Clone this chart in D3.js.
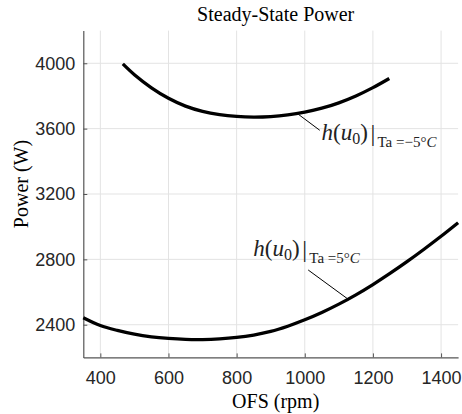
<!DOCTYPE html>
<html><head><meta charset="utf-8">
<script src="https://cdn.jsdelivr.net/npm/d3@7"></script>
<style>body{margin:0;background:#fff}</style>
</head><body><svg id="c" width="462" height="414"></svg>
<script>
// ---- data ----
const title = "Steady-State Power";
const xLabel = "OFS (rpm)";
const yLabel = "Power (W)";
const xTicks = [400, 600, 800, 1000, 1200, 1400];
const yTicks = [2400, 2800, 3200, 3600, 4000];
const rpmCold   = [466, 500, 550, 600, 650, 700, 750, 800, 850, 900, 950, 1000, 1050, 1100, 1150, 1200, 1248];
const powerCold = [3996, 3930, 3850, 3786, 3738, 3706, 3686, 3675, 3671, 3674, 3684, 3701, 3725, 3758, 3800, 3851, 3907];
const rpmWarm   = [350, 400, 450, 500, 550, 600, 650, 700, 750, 800, 850, 900, 950, 1000, 1050, 1100, 1150, 1200, 1250, 1300, 1350, 1400, 1450];
const powerWarm = [2443, 2395, 2365, 2342, 2326, 2316, 2310, 2309, 2313, 2322, 2337, 2359, 2391, 2430, 2475, 2526, 2583, 2646, 2714, 2786, 2862, 2941, 3024];
// annotation: point on curve, line tail, text anchor (data coords), subscript text
const annotations = [
  {px: 981, py: 3688, tx: 1044, ty: 3590, lx: 1049, ly: 3529, sub: "Ta =\u22125\u00B0", C: "C"},
  {px: 1128, py: 2555, tx: 1010, ty: 2735, lx: 849, ly: 2818, sub: "Ta =5\u00B0", C: "C"}
];

const svg = d3.select("#c");
const m = {l: 83.3, r: 458.1, t: 30.6, b: 357.4};
const x = d3.scaleLinear().domain([350, 1450]).range([m.l, m.r]);
const y = d3.scaleLinear().domain([2200, 4200]).range([m.b, m.t]);
const axisCol = "#262626";

// grid
const g = svg.append("g");
g.selectAll(".gx").data(xTicks).join("line")
  .attr("x1", d => x(d)).attr("x2", d => x(d)).attr("y1", m.t).attr("y2", m.b)
  .attr("stroke", "#e3e3e3").attr("stroke-width", 1);
g.selectAll(".gy").data(yTicks).join("line")
  .attr("y1", d => y(d)).attr("y2", d => y(d)).attr("x1", m.l).attr("x2", m.r)
  .attr("stroke", "#e3e3e3").attr("stroke-width", 1);

// axes
const fmt = d3.format("d");
const xAxis = d3.axisBottom(x).tickValues(xTicks).tickFormat(fmt).tickSizeInner(-4).tickSizeOuter(0).tickPadding(14);
const yAxis = d3.axisLeft(y).tickValues(yTicks).tickFormat(fmt).tickSizeInner(-4).tickSizeOuter(0).tickPadding(8);
const gx = svg.append("g").attr("transform", `translate(0,${m.b})`).call(xAxis);
const gy = svg.append("g").attr("transform", `translate(${m.l},0)`).call(yAxis);
[gx, gy].forEach(a => {
  a.select(".domain").attr("stroke", "#555").attr("stroke-width", 1.2);
  a.selectAll(".tick line").attr("stroke", "#555");
  a.selectAll(".tick text").attr("fill", axisCol)
    .style("font-family", "'Liberation Sans', Arial, sans-serif").style("font-size", "18px");
});
gx.selectAll(".tick text").attr("dy", "0.71em");

// curves
const line = d3.line().x(d => x(d[0])).y(d => y(d[1])).curve(d3.curveCatmullRom);
svg.append("path").datum(d3.zip(rpmCold, powerCold)).attr("d", line)
  .attr("fill", "none").attr("stroke", "#000").attr("stroke-width", 3.3);
svg.append("path").datum(d3.zip(rpmWarm, powerWarm)).attr("d", line)
  .attr("fill", "none").attr("stroke", "#000").attr("stroke-width", 3.3);

// annotations
const serif = "'Liberation Serif', 'Times New Roman', serif";
annotations.forEach(a => {
  svg.append("line").attr("x1", x(a.px)).attr("y1", y(a.py)).attr("x2", x(a.tx)).attr("y2", y(a.ty))
    .attr("stroke", "#000").attr("stroke-width", 1);
  const X = x(a.lx), Y = y(a.ly);
  const t = svg.append("text").attr("x", X).attr("y", Y)
    .style("font-family", serif).style("font-size", "23px").attr("fill", "#222");
  t.append("tspan").style("font-style", "italic").text("h");
  t.append("tspan").text("(");
  t.append("tspan").style("font-style", "italic").text("u");
  t.append("tspan").attr("dy", 4).style("font-size", "16px").text("0");
  t.append("tspan").attr("dy", -4).text(")");
  svg.append("text").attr("x", X + 49).attr("y", Y + 1)
    .style("font-family", serif).style("font-size", "24px").attr("fill", "#222").text("|");
  const s = svg.append("text").attr("x", X + 56).attr("y", Y + 7)
    .style("font-family", serif).style("font-size", "15px").attr("fill", "#222");
  s.append("tspan").text(a.sub);
  s.append("tspan").style("font-style", "italic").text(a.C);
});

// title & labels
const cx = (m.l + m.r) / 2 + 5;
svg.append("text").attr("x", cx).attr("y", 21).attr("text-anchor", "middle")
  .style("font-family", serif).style("font-size", "20px").attr("fill", "#000").text(title);
svg.append("text").attr("x", cx).attr("y", 408).attr("text-anchor", "middle")
  .style("font-family", serif).style("font-size", "20px").attr("fill", "#000").text(xLabel);
svg.append("text").attr("transform", `translate(28,${(m.t + m.b) / 2 - 10}) rotate(-90)`)
  .attr("text-anchor", "middle")
  .style("font-family", serif).style("font-size", "20px").attr("fill", "#000").text(yLabel);
</script></body></html>
